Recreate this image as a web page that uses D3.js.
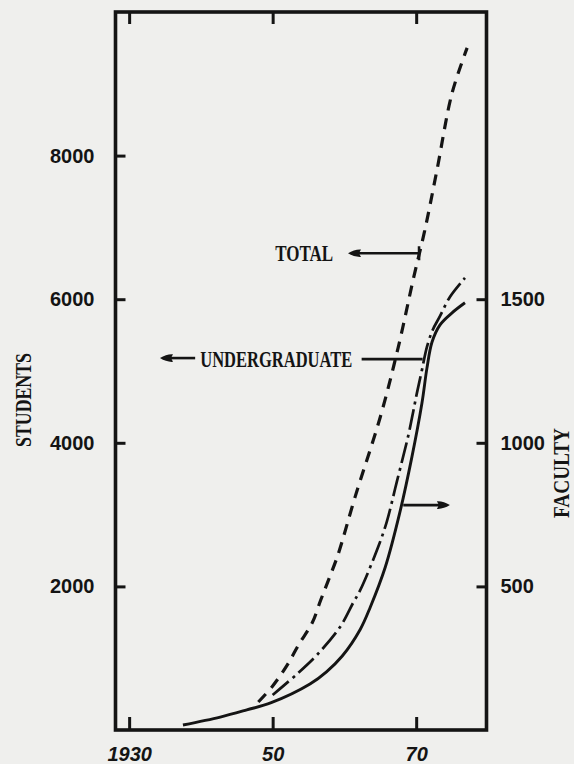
<!DOCTYPE html>
<html>
<head>
<meta charset="utf-8">
<script src="https://cdn.jsdelivr.net/npm/d3@7"></script>
<style>
  html, body { margin: 0; padding: 0; background: #efefed; }
  svg { display: block; }
</style>
</head>
<body>
<svg id="chart" width="574" height="764"></svg>
<script>
// ---- data ----
const yearTicks = [1930, 1950, 1970];
const yearTickLabels = ["1930", "50", "70"];
const studentTicks = [2000, 4000, 6000, 8000];
const facultyTicks = [500, 1000, 1500];

const totalYears    = [1948.0, 1949.9, 1952.0, 1953.7, 1955.5, 1956.7, 1957.9, 1959.1, 1961.5, 1965.0, 1967.5, 1969.6, 1971.2, 1972.9, 1975.0, 1977.1];
const totalStudents = [390, 600, 900, 1200, 1490, 1810, 2120, 2440, 3250, 4360, 5330, 6280, 6960, 7800, 8870, 9500];

const ugYears    = [1937.5, 1942.7, 1946.4, 1949.8, 1955.2, 1957.5, 1959.7, 1962.2, 1963.6, 1965.7, 1967.7, 1969.4, 1970.8, 1971.5, 1972.2, 1973.3, 1975.0, 1976.8];
const ugStudents = [70, 180, 280, 380, 640, 810, 1030, 1400, 1710, 2270, 3020, 3800, 4550, 5040, 5400, 5640, 5810, 5950];

const facYears   = [1950.0, 1953.4, 1956.2, 1959.4, 1961.2, 1962.2, 1964.7, 1965.9, 1967.3, 1968.9, 1969.6, 1970.1, 1970.8, 1971.5, 1972.3, 1973.3, 1974.7, 1976.8];
const facCount   = [122, 195, 262, 359, 442, 487, 637, 725, 864, 1025, 1110, 1173, 1253, 1334, 1393, 1440, 1508, 1574];

// annotation anchors (data units)
const totalLabel = { text: "TOTAL", year: 1954.4, value: 6640, arrowFrom: 1970.4, arrowTo: 1960.5 };
const ugLabel = { text: "UNDERGRADUATE", year: 1950.5, value: 5180, arrowTip: 1934.3, arrowEnd: 1939.2, lineFrom: 1962.4, lineTo: 1970.9 };
const facArrow = { value: 783, from: 1968.2, to: 1974.7 };

// ---- layout ----
const svg = d3.select("#chart");
const L = 115.5, R = 486.5, T = 12, B = 730;
const ink = "#141414";

const x = d3.scaleLinear().domain([1928.1, 1979.8]).range([L, R]);
const yS = d3.scaleLinear().domain([0, 10000]).range([B, T]);
const yF = d3.scaleLinear().domain([0, 2500]).range([B, T]);

// frame
svg.append("rect").attr("x", L).attr("y", T).attr("width", R - L).attr("height", B - T)
  .attr("fill", "none").attr("stroke", ink).attr("stroke-width", 3.6);

function styleAxis(g) {
  g.select(".domain").remove();
  g.selectAll(".tick line").attr("stroke", ink).attr("stroke-width", 3);
  g.selectAll(".tick text").attr("fill", ink).attr("font-family", "'Liberation Sans', Arial, sans-serif")
    .attr("font-weight", "bold").attr("font-size", 20);
}

svg.append("g").attr("transform", `translate(${L},0)`)
  .call(d3.axisLeft(yS).tickValues(studentTicks).tickSize(-10).tickPadding(21).tickFormat(d3.format("d")))
  .call(styleAxis);

svg.append("g").attr("transform", `translate(${R},0)`)
  .call(d3.axisRight(yF).tickValues(facultyTicks).tickSize(-10).tickPadding(14).tickFormat(d3.format("d")))
  .call(styleAxis);

const bx = svg.append("g").attr("transform", `translate(0,${B})`)
  .call(d3.axisBottom(x).tickValues(yearTicks).tickSize(-13).tickPadding(17)
    .tickFormat((d, i) => yearTickLabels[i]))
  .call(styleAxis);
bx.selectAll(".tick text").attr("font-style", "italic");

svg.append("g").attr("transform", `translate(0,${T})`)
  .call(d3.axisTop(x).tickValues(yearTicks).tickSize(-12).tickFormat(""))
  .call(styleAxis);

// curves
const lineS = d3.line().x(d => x(d[0])).y(d => yS(d[1])).curve(d3.curveCatmullRom.alpha(0.5));
const lineF = d3.line().x(d => x(d[0])).y(d => yF(d[1])).curve(d3.curveCatmullRom.alpha(0.5));

svg.append("path").datum(d3.zip(totalYears, totalStudents)).attr("d", lineS)
  .attr("fill", "none").attr("stroke", ink).attr("stroke-width", 3.2)
  .attr("stroke-dasharray", "11 8");

svg.append("path").datum(d3.zip(facYears, facCount)).attr("d", lineF)
  .attr("fill", "none").attr("stroke", ink).attr("stroke-width", 2.7)
  .attr("stroke-dasharray", "21 5 3 5");

svg.append("path").datum(d3.zip(ugYears, ugStudents)).attr("d", lineS)
  .attr("fill", "none").attr("stroke", ink).attr("stroke-width", 2.9);

// annotations
function arrowHead(tipX, tipY, dir) {
  const len = 13, hw = 4.2;
  const bxp = tipX - dir * len;
  svg.append("path")
    .attr("d", `M${tipX},${tipY} Q${tipX - dir * len * 0.5},${tipY - hw} ${bxp},${tipY - hw * 0.9} L${bxp + dir * 2},${tipY} L${bxp},${tipY + hw * 0.9} Q${tipX - dir * len * 0.5},${tipY + hw} ${tipX},${tipY}Z`)
    .attr("fill", ink);
}
function hline(x1, x2, yy, w) {
  svg.append("line").attr("x1", x1).attr("x2", x2).attr("y1", yy).attr("y2", yy)
    .attr("stroke", ink).attr("stroke-width", w || 2.6);
}
const serif = "'Liberation Serif', 'DejaVu Serif', serif";

// TOTAL
{
  const yy = yS(totalLabel.value);
  hline(x(totalLabel.arrowTo) + 8, x(totalLabel.arrowFrom), yy);
  svg.append("line").attr("x1", x(totalLabel.arrowFrom)).attr("x2", x(totalLabel.arrowFrom))
    .attr("y1", yy - 7).attr("y2", yy + 7).attr("stroke", ink).attr("stroke-width", 2.6);
  arrowHead(x(totalLabel.arrowTo), yy, -1);
  svg.append("text").attr("x", x(totalLabel.year)).attr("y", yy + 8)
    .attr("text-anchor", "middle").attr("font-family", serif).attr("font-weight", "bold")
    .attr("font-size", 23).attr("textLength", 58).attr("lengthAdjust", "spacingAndGlyphs")
    .attr("fill", ink).text(totalLabel.text);
}
// UNDERGRADUATE
{
  const yy = yS(ugLabel.value);
  hline(x(ugLabel.arrowTip) + 8, x(ugLabel.arrowEnd), yy);
  arrowHead(x(ugLabel.arrowTip), yy, -1);
  hline(x(ugLabel.lineFrom), x(ugLabel.lineTo), yy + 1);
  svg.append("text").attr("x", x(ugLabel.year)).attr("y", yy + 9)
    .attr("text-anchor", "middle").attr("font-family", serif).attr("font-weight", "bold")
    .attr("font-size", 23).attr("textLength", 152).attr("lengthAdjust", "spacingAndGlyphs")
    .attr("fill", ink).text(ugLabel.text);
}
// faculty arrow
{
  const yy = yF(facArrow.value);
  hline(x(facArrow.from), x(facArrow.to) - 8, yy);
  arrowHead(x(facArrow.to), yy, 1);
}

// axis titles
svg.append("text").attr("transform", "translate(31,400) rotate(-90)")
  .attr("text-anchor", "middle").attr("font-family", serif).attr("font-weight", "bold")
  .attr("font-size", 24).attr("textLength", 94).attr("lengthAdjust", "spacingAndGlyphs")
  .attr("fill", ink).text("STUDENTS");
svg.append("text").attr("transform", "translate(569,473) rotate(-90)")
  .attr("text-anchor", "middle").attr("font-family", serif).attr("font-weight", "bold")
  .attr("font-size", 23).attr("textLength", 90).attr("lengthAdjust", "spacingAndGlyphs")
  .attr("fill", ink).text("FACULTY");
</script>
</body>
</html>
